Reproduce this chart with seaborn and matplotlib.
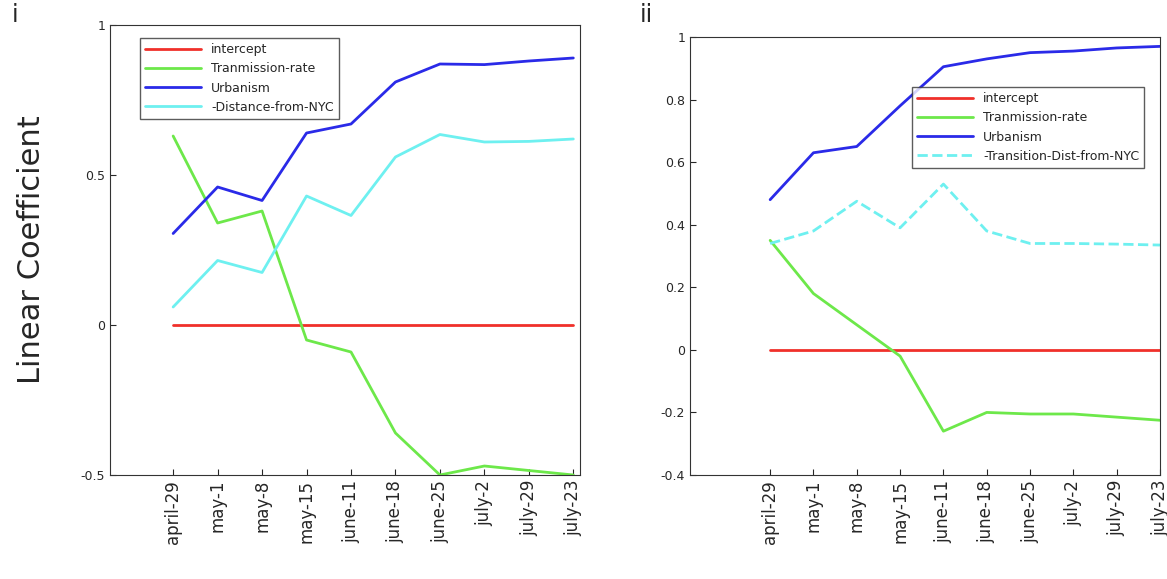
import numpy as np
import pandas as pd
import matplotlib
matplotlib.use("Agg")
import matplotlib.pyplot as plt
import seaborn as sns

dates = ['april-29', 'may-1', 'may-8', 'may-15', 'june-11', 'june-18',
         'june-25', 'july-2', 'july-29', 'july-23']

# panel i
intercept_i = [0, 0, 0, 0, 0, 0, 0, 0, 0, 0]
trans_i = [0.63, 0.34, 0.38, -0.05, -0.09, -0.36, -0.50, -0.47, -0.485, -0.50]
urban_i = [0.305, 0.46, 0.415, 0.64, 0.67, 0.81, 0.87, 0.868, 0.88, 0.89]
dist_i = [0.06, 0.215, 0.175, 0.43, 0.365, 0.56, 0.635, 0.61, 0.612, 0.62]

# panel ii
intercept_ii = [0, 0, 0, 0, 0, 0, 0, 0, 0, 0]
trans_ii = [0.35, 0.18, 0.08, -0.02, -0.26, -0.20, -0.205, -0.205, -0.215, -0.225]
urban_ii = [0.48, 0.63, 0.65, 0.78, 0.905, 0.93, 0.95, 0.955, 0.965, 0.97]
dist_ii = [0.34, 0.38, 0.475, 0.39, 0.53, 0.38, 0.34, 0.34, 0.338, 0.335]

sns.set_style("white")
plt.rcParams['font.family'] = ['DejaVu Sans']

fig = plt.figure(figsize=(11.67, 5.79), dpi=100)
ax1 = fig.add_axes([110/1167, 1-475/579, 470/1167, 450/579])
ax2 = fig.add_axes([690/1167, 1-475/579, 470/1167, 438/579])

x = np.arange(len(dates))

def draw(ax, inter, trans, urb, dist, dist_label, dashed):
    sns.lineplot(x=x, y=inter, ax=ax, color='#f0302a', lw=2, label='intercept')
    sns.lineplot(x=x, y=trans, ax=ax, color='#6de84a', lw=2, label='Tranmission-rate')
    sns.lineplot(x=x, y=urb, ax=ax, color='#2a2ae8', lw=2, label='Urbanism')
    sns.lineplot(x=x, y=dist, ax=ax, color='#6ef0f0', lw=2, label=dist_label,
                 linestyle='--' if dashed else '-')
    ax.set_xticks(x)
    ax.set_xticklabels(dates, rotation=90, fontsize=12)
    for s in ax.spines.values():
        s.set_color('#333333')
        s.set_linewidth(0.8)
    ax.tick_params(axis='y', labelsize=9, direction='in', length=4, left=True)
    ax.tick_params(axis='x', direction='in', length=4, bottom=True)

draw(ax1, intercept_i, trans_i, urban_i, dist_i, '-Distance-from-NYC', False)
ax1.set_xlim(-1.42, 9.15)
ax1.set_ylim(-0.5, 1)
ax1.set_yticks([-0.5, 0, 0.5, 1])
ax1.set_yticklabels(['-0.5', '0', '0.5', '1'])
ax1.set_ylabel('Linear Coefficient', fontsize=22, labelpad=25)
ax1.legend(loc='upper left', fontsize=9, frameon=True, fancybox=False,
           edgecolor='#333333', borderpad=0.4, handlelength=4.5,
           bbox_to_anchor=(0.05, 0.985))

draw(ax2, intercept_ii, trans_ii, urban_ii, dist_ii, '-Transition-Dist-from-NYC', True)
ax2.set_xlim(-1.85, 9)
ax2.set_ylim(-0.4, 1)
ax2.set_yticks(np.round(np.arange(-0.4, 1.01, 0.2), 1))
ax2.set_yticklabels(['-0.4', '-0.2', '0', '0.2', '0.4', '0.6', '0.8', '1'])
ax2.legend(loc='upper right', fontsize=9, frameon=True, fancybox=False,
           edgecolor='#333333', borderpad=0.4, handlelength=4.5,
           bbox_to_anchor=(0.98, 0.9))

fig.text(12/1167, 1-22/579, 'i', fontsize=17)
fig.text(640/1167, 1-22/579, 'ii', fontsize=17)

fig.savefig('out.png', dpi=100)
